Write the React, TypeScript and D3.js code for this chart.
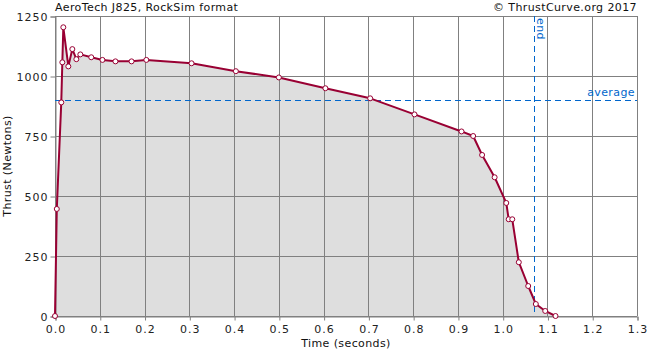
import React, { useEffect, useRef } from "react";
import { select, scaleLinear, axisLeft, axisBottom, line, area, range } from "d3";

// thrust curve samples
const times = [
  0, 0.004, 0.014, 0.0164, 0.0186, 0.0298, 0.0387, 0.0477, 0.0566, 0.081, 0.106,
  0.135, 0.171, 0.204, 0.305, 0.404, 0.5, 0.604, 0.704, 0.803, 0.908, 0.934,
  0.954, 0.982, 1.008, 1.0134, 1.0214, 1.036, 1.057, 1.074, 1.095, 1.118,
];
const thrusts = [
  0, 446, 890, 1057, 1203, 1040, 1112, 1070, 1090, 1078, 1067, 1061, 1061,
  1067, 1053, 1020, 994, 949, 907, 840, 769, 750, 671, 578, 471, 403, 403, 224,
  125, 50, 21, 0,
];
const xTicks = range(0, 14).map((i) => i / 10);
const yTicks = [0, 250, 500, 750, 1000, 1250];
const averageThrust = 899;
const burnEnd = 1.071;

const title = "AeroTech J825, RockSim format";
const credit = "© ThrustCurve.org 2017";

export default function App() {
  const ref = useRef<SVGSVGElement>(null);

  useEffect(() => {
    const width = 650;
    const height = 350;
    const margin = { top: 16, right: 13, bottom: 34, left: 55 };
    const innerWidth = width - margin.left - margin.right;
    const innerHeight = height - margin.top - margin.bottom;

    const svg = select(ref.current);
    svg.selectAll("*").remove();

    const xScale = scaleLinear().domain([0, 1.3]).range([0, innerWidth]);
    const yScale = scaleLinear().domain([0, 1250]).range([innerHeight, 0]);

    const pts = times.map((t, i) => ({ t, f: thrusts[i] }));

    const g = svg
      .append("g")
      .attr("transform", `translate(${margin.left},${margin.top})`);

    // filled area under curve
    g.append("path")
      .datum(pts)
      .attr("fill", "#dedede")
      .attr(
        "d",
        area<{ t: number; f: number }>()
          .x((d) => xScale(d.t))
          .y0(innerHeight)
          .y1((d) => yScale(d.f))
      );

    // grid
    g.selectAll(".vgrid")
      .data(xTicks)
      .enter()
      .append("line")
      .attr("x1", (d) => Math.round(xScale(d)) + 0.5)
      .attr("x2", (d) => Math.round(xScale(d)) + 0.5)
      .attr("y1", 0)
      .attr("y2", innerHeight)
      .attr("stroke", "#808080");
    g.selectAll(".hgrid")
      .data(yTicks)
      .enter()
      .append("line")
      .attr("x1", 0)
      .attr("x2", innerWidth)
      .attr("y1", (d) => Math.round(yScale(d)) + 0.5)
      .attr("y2", (d) => Math.round(yScale(d)) + 0.5)
      .attr("stroke", "#808080");

    const fontFamily = "'DejaVu Sans', sans-serif";

    // axes
    const xAxisG = g
      .append("g")
      .attr("transform", `translate(0.5,${innerHeight + 0.5})`)
      .call(
        axisBottom(xScale)
          .tickValues(xTicks)
          .tickSize(4)
          .tickPadding(5)
          .tickFormat((d) => (+d).toFixed(1))
      );
    const yAxisG = g
      .append("g")
      .attr("transform", `translate(0.5,0.5)`)
      .call(
        axisLeft(yScale)
          .tickValues(yTicks)
          .tickSize(5)
          .tickPadding(2)
          .tickFormat((d) => String(d))
      );

    [xAxisG, yAxisG].forEach((ax) => {
      ax.select(".domain").attr("stroke", "#808080");
      ax.selectAll(".tick line").attr("stroke", "#808080");
      ax.selectAll(".tick text")
        .attr("fill", "#222")
        .style("font-family", fontFamily)
        .style("font-size", "11px")
        .style("letter-spacing", "1px");
    });

    // average and end markers
    const blue = "#0066cc";
    g.append("line")
      .attr("x1", 0)
      .attr("x2", innerWidth)
      .attr("y1", Math.round(yScale(averageThrust)) + 0.5)
      .attr("y2", Math.round(yScale(averageThrust)) + 0.5)
      .attr("stroke", blue)
      .attr("stroke-dasharray", "6,4");
    g.append("line")
      .attr("x1", Math.round(xScale(burnEnd)) + 0.5)
      .attr("x2", Math.round(xScale(burnEnd)) + 0.5)
      .attr("y1", 0)
      .attr("y2", innerHeight)
      .attr("stroke", blue)
      .attr("stroke-dasharray", "6,4");

    g.append("text")
      .attr("x", innerWidth - 2)
      .attr("y", yScale(averageThrust) - 4)
      .attr("text-anchor", "end")
      .attr("fill", blue)
      .style("font-family", fontFamily)
      .style("font-size", "11px")
      .style("letter-spacing", "0.4px")
      .text("average");
    g.append("text")
      .attr("transform", `translate(${xScale(burnEnd) + 3},2) rotate(90)`)
      .attr("fill", blue)
      .style("font-family", fontFamily)
      .style("font-size", "11px")
      .style("letter-spacing", "0.4px")
      .text("end");

    // thrust line
    g.append("path")
      .datum(pts)
      .attr("fill", "none")
      .attr("stroke", "#990033")
      .attr("stroke-width", 2)
      .attr("stroke-linejoin", "round")
      .attr(
        "d",
        line<{ t: number; f: number }>()
          .x((d) => xScale(d.t))
          .y((d) => yScale(d.f))
      );

    g.selectAll(".pt")
      .data(pts)
      .enter()
      .append("circle")
      .attr("cx", (d) => xScale(d.t))
      .attr("cy", (d) => yScale(d.f))
      .attr("r", 2.5)
      .attr("fill", "white")
      .attr("stroke", "#990033")
      .attr("stroke-width", 1);

    // titles
    const label = (x: number, y: number, text: string, anchor: string) =>
      svg
        .append("text")
        .attr("x", x)
        .attr("y", y)
        .attr("text-anchor", anchor)
        .attr("fill", "#111")
        .style("font-family", fontFamily)
        .style("font-size", "11px")
        .style("letter-spacing", "0.4px")
        .text(text);

    label(margin.left, 11, title, "start");
    label(width - 13, 11, credit, "end");
    label(margin.left + innerWidth / 2, 347, "Time (seconds)", "middle");
    label(0, 0, "Thrust (Newtons)", "middle").attr(
      "transform",
      `translate(11,${margin.top + innerHeight / 2}) rotate(-90)`
    );
  }, []);

  return (
    <svg
      ref={ref}
      width={650}
      height={350}
      style={{ position: "absolute", left: 0, top: 0, background: "white" }}
    />
  );
}
